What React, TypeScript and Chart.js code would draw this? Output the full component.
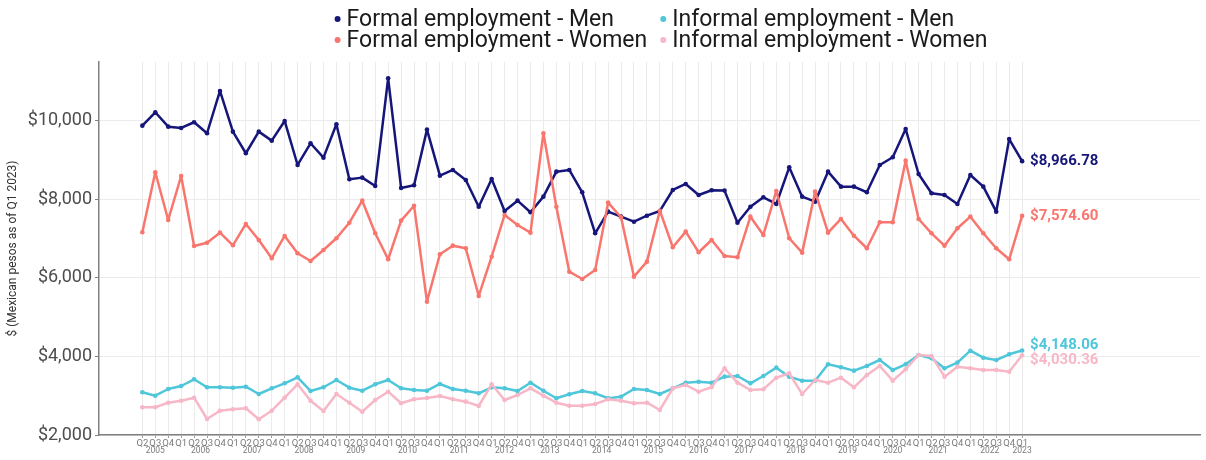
import React, { useEffect, useRef } from 'react';
import { Chart, registerables } from 'chart.js';

Chart.register(...registerables);

// ---------- Data ----------
const years = [2005, 2006, 2007, 2008, 2009, 2010, 2011, 2012, 2013, 2014, 2015, 2016, 2017, 2018, 2019, 2020, 2021, 2022, 2023];
const quartersByYear: string[][] = [
  ['Q2', 'Q3', 'Q4'], // 2005
  ['Q1', 'Q2', 'Q3', 'Q4'], // 2006
  ['Q1', 'Q2', 'Q3', 'Q4'], // 2007
  ['Q1', 'Q2', 'Q3', 'Q4'], // 2008
  ['Q1', 'Q2', 'Q3', 'Q4'], // 2009
  ['Q1', 'Q2', 'Q3', 'Q4'], // 2010
  ['Q1', 'Q2', 'Q3', 'Q4'], // 2011
  ['Q1', 'Q2', 'Q4'], // 2012
  ['Q1', 'Q2', 'Q3', 'Q4'], // 2013
  ['Q1', 'Q2', 'Q3', 'Q4'], // 2014
  ['Q1', 'Q2', 'Q3', 'Q4'], // 2015
  ['Q1', 'Q3', 'Q4'], // 2016
  ['Q1', 'Q2', 'Q3', 'Q4'], // 2017
  ['Q1', 'Q2', 'Q3', 'Q4'], // 2018
  ['Q1', 'Q2', 'Q3', 'Q4'], // 2019
  ['Q1', 'Q3', 'Q4'], // 2020
  ['Q1', 'Q2', 'Q3', 'Q4'], // 2021
  ['Q1', 'Q2', 'Q3', 'Q4'], // 2022
  ['Q1'], // 2023
];
const quarterLabels: string[] = quartersByYear.flat();

const yTicks = [2000, 4000, 6000, 8000, 10000];

const formalMen = [
  9870, 10211, 9845, 9812, 9957, 9677, 10753, 9718, 9168, 9718, 9489, 9990, 8870, 9422, 9056, 9906, 8506, 8548, 8336, 11076, 8285, 8354, 9770,
  8598, 8743, 8489, 7809, 8514, 7700, 7962, 7667, 8064, 8700, 8743, 8176, 7132, 7682, 7555, 7427, 7580, 7700, 8234, 8387, 8107, 8226,
  8218, 7402, 7809, 8048, 7878, 8811, 8064, 7936, 8700, 8318, 8318, 8176, 8870, 9066, 9786, 8641, 8150, 8107, 7878, 8616, 8318, 7682, 9528, 8966.78,
];
const formalWomen = [
  7158, 8684, 7471, 8590, 6809, 6893, 7148, 6827, 7369, 6962, 6496, 7064, 6623, 6427, 6707, 7005, 7402, 7962, 7132, 6471, 7453, 7834, 5392,
  6598, 6817, 6751, 5537, 6537, 7598, 7344, 7148, 9677, 7809, 6155, 5969, 6198, 7911, 7539, 6028, 6410, 7707, 6776, 7175, 6649, 6962,
  6555, 6522, 7555, 7089, 8209, 7005, 6639, 8191, 7148, 7496, 7071, 6751, 7412, 7412, 8980, 7496, 7132, 6817, 7259, 7555, 7132, 6751, 6471, 7574.6,
];
const informalMen = [
  3086, 3000, 3170, 3247, 3417, 3214, 3214, 3204, 3229, 3043, 3188, 3315, 3468, 3120, 3214, 3399, 3204, 3127, 3290, 3399, 3188, 3145, 3127,
  3298, 3170, 3127, 3061, 3214, 3188, 3120, 3331, 3127, 2934, 3036, 3120, 3061, 2934, 2975, 3170, 3145, 3043, 3188, 3331, 3356, 3331,
  3484, 3501, 3315, 3501, 3713, 3484, 3382, 3382, 3799, 3723, 3637, 3756, 3908, 3654, 3799, 4036, 3951, 3697, 3841, 4145, 3967, 3908, 4053, 4148.06,
];
const informalWomen = [
  2705, 2705, 2822, 2873, 2949, 2407, 2618, 2654, 2679, 2399, 2618, 2949, 3290, 2873, 2611, 3043, 2822, 2593, 2891, 3102, 2807, 2908, 2940,
  2992, 2908, 2848, 2738, 3290, 2891, 3018, 3188, 3000, 2822, 2746, 2746, 2789, 2908, 2873, 2807, 2822, 2636, 3188, 3272, 3102, 3214,
  3697, 3331, 3145, 3163, 3458, 3570, 3043, 3399, 3331, 3458, 3214, 3527, 3756, 3382, 3672, 4036, 4010, 3484, 3738, 3697, 3654, 3654, 3611, 4030.36,
];

const seriesNames = [
  'Formal employment - Men',
  'Formal employment - Women',
  'Informal employment - Men',
  'Informal employment - Women',
];
const seriesColors = ['#15157a', '#f8766d', '#4fc6da', '#f7b7c7'];
const seriesValues = [formalMen, formalWomen, informalMen, informalWomen];
// legend arranged in two columns: [FM, FW] and [IM, IW]
const legendColumns = [[0, 1], [2, 3]];

const FONT = 'Roboto, "Noto Sans", sans-serif';

// ---------- Plugins ----------
const yearLabelsPlugin = {
  id: 'yearLabels',
  afterDraw(chart: any) {
    const { ctx, chartArea } = chart;
    const xs = chart.scales.x;
    ctx.save();
    ctx.font = `8.5px ${FONT}`;
    ctx.fillStyle = '#7a7a7a';
    ctx.textAlign = 'center';
    ctx.textBaseline = 'middle';
    let idx = 0;
    years.forEach((yr, k) => {
      const n = quartersByYear[k].length;
      const x = (xs.getPixelForValue(idx) + xs.getPixelForValue(idx + n - 1)) / 2;
      ctx.fillText(String(yr), x, chartArea.bottom + 16);
      idx += n;
    });
    ctx.restore();
  },
};

const endLabelsPlugin = {
  id: 'endLabels',
  afterDatasetsDraw(chart: any) {
    const ctx = chart.ctx;
    const items = chart.data.datasets.map((ds: any, di: number) => {
      const meta = chart.getDatasetMeta(di);
      const pt = meta.data[meta.data.length - 1];
      const val = ds.data[ds.data.length - 1].y;
      return {
        x: pt.x,
        y: pt.y,
        color: ds.borderColor,
        text: '$' + val.toLocaleString('en-US', { minimumFractionDigits: 2, maximumFractionDigits: 2 }),
      };
    });
    items.sort((a: any, b: any) => a.y - b.y);
    const minGap = 15;
    for (let iter = 0; iter < 30; iter++) {
      for (let i = 1; i < items.length; i++) {
        const d = items[i].y - items[i - 1].y;
        if (d < minGap) {
          const s = (minGap - d) / 2;
          items[i - 1].y -= s;
          items[i].y += s;
        }
      }
    }
    ctx.save();
    ctx.font = `bold 15px ${FONT}`;
    ctx.textAlign = 'left';
    ctx.textBaseline = 'middle';
    items.forEach((it: any) => {
      ctx.fillStyle = it.color;
      ctx.fillText(it.text, it.x + 8, it.y);
    });
    ctx.restore();
  },
};

const legendPlugin = {
  id: 'customLegend',
  afterDraw(chart: any) {
    const { ctx, chartArea } = chart;
    ctx.save();
    ctx.font = `23px ${FONT}`;
    ctx.textBaseline = 'middle';
    ctx.textAlign = 'left';
    const keyGap = 9;
    const colGap = 16;
    const colWidths = legendColumns.map((col) =>
      Math.max(...col.map((i) => ctx.measureText(seriesNames[i]).width))
    );
    const total = colWidths.reduce((a, w) => a + keyGap + w, 0) + colGap;
    const center = (chartArea.left + chartArea.right) / 2 + 13;
    let x = center - total / 2;
    const rows = [19, 40];
    legendColumns.forEach((col, c) => {
      col.forEach((si, r) => {
        const y = rows[r];
        ctx.fillStyle = seriesColors[si];
        ctx.beginPath();
        ctx.arc(x, y, 3, 0, Math.PI * 2);
        ctx.fill();
        ctx.fillStyle = '#1a1a1a';
        ctx.fillText(seriesNames[si], x + keyGap, y + 1);
      });
      x += keyGap + colWidths[c] + colGap;
    });
    ctx.restore();
  },
};

export default function App() {
  const canvasRef = useRef<HTMLCanvasElement | null>(null);

  useEffect(() => {
    if (!canvasRef.current) return;
    const order = [3, 2, 1, 0];
    const chart = new Chart(canvasRef.current, {
      type: 'line',
      data: {
        datasets: seriesNames.map((name, si) => ({
          label: name,
          data: seriesValues[si].map((v, i) => ({ x: i, y: v })),
          borderColor: seriesColors[si],
          backgroundColor: seriesColors[si],
          borderWidth: 2.5,
          borderJoinStyle: 'round' as const,
          borderCapStyle: 'round' as const,
          pointRadius: 2.3,
          pointBorderWidth: 0,
          pointHoverRadius: 2.3,
          tension: 0,
          fill: false,
          order: order[si],
        })),
      },
      options: {
        responsive: false,
        animation: false,
        events: [],
        layout: { padding: { top: 62, right: 6, left: 0, bottom: 0 } },
        plugins: {
          legend: { display: false },
          tooltip: { enabled: false },
        },
        scales: {
          x: {
            type: 'linear',
            min: -3.35,
            max: 81.75,
            afterBuildTicks: (scale: any) => {
              scale.ticks = quarterLabels.map((_, i) => ({ value: i }));
            },
            afterFit: (scale: any) => {
              scale.height = 25;
            },
            ticks: {
              autoSkip: false,
              maxRotation: 0,
              minRotation: 0,
              padding: 0,
              callback: (v: any) => quarterLabels[Math.round(Number(v))] ?? '',
              font: { family: FONT, size: 9.5 },
              color: '#7a7a7a',
            },
            grid: { color: '#ebebeb', lineWidth: 1, tickLength: 3, tickColor: '#9a9a9a' },
            border: { display: true, color: '#808080', width: 1.5 },
          },
          y: {
            type: 'linear',
            min: 2000,
            max: 11490,
            afterBuildTicks: (scale: any) => {
              scale.ticks = yTicks.map((v) => ({ value: v }));
            },
            afterFit: (scale: any) => {
              scale.width = 99;
            },
            ticks: {
              padding: 3,
              callback: (v: any) => '$' + Number(v).toLocaleString('en-US'),
              font: { family: FONT, size: 18 },
              color: '#4d4d4d',
            },
            grid: { color: '#ebebeb', lineWidth: 1, tickLength: 4, tickColor: '#808080' },
            border: { display: true, color: '#808080', width: 1.5 },
            title: {
              display: true,
              text: '$ (Mexican pesos as of Q1 2023)',
              font: { family: FONT, size: 12 },
              color: '#333333',
              padding: { top: 6, bottom: 0 },
            },
          },
        },
      },
      plugins: [yearLabelsPlugin, endLabelsPlugin, legendPlugin],
    });
    return () => chart.destroy();
  }, []);

  return (
    <div style={{ position: 'absolute', left: 0, top: 0, width: 1206, height: 460, background: '#fff' }}>
      <canvas ref={canvasRef} width={1206} height={460} style={{ display: 'block' }} />
    </div>
  );
}
